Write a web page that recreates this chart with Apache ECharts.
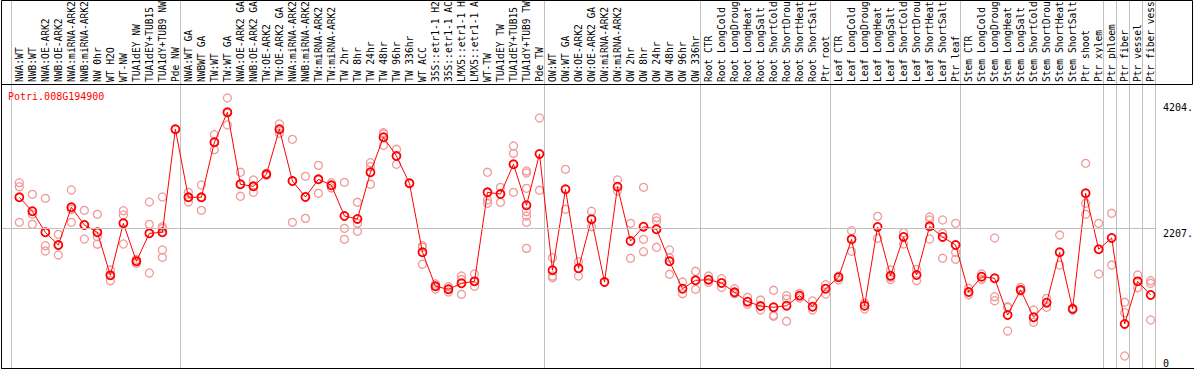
<!DOCTYPE html>
<html><head><meta charset="utf-8">
<script src="https://cdn.jsdelivr.net/npm/echarts@6/dist/echarts.min.js"></script>
<style>html,body{margin:0;padding:0;background:#fff}#c{width:1194px;height:370px}</style>
</head><body><div id="c"></div>
<script>
const geneId = 'Potri.008G194900';
const categories = [
 'NWA:WT','NWB:WT','NWA:OE-ARK2','NWB:OE-ARK2','NWA:miRNA-ARK2','NWB:miRNA-ARK2','NW 0hr','WT H2O','WT-NW','TUA1dEY NW',
 'TUA1dEY+TUB15','TUA1dY+TUB9 NW','Pde NW','NWA:WT GA','NWBWT GA','TW:WT','TW:WT GA','NWA:OE-ARK2 GA','NWB:OE-ARK2 GA','TW:OE-ARK2',
 'TW:OE-ARK2 GA','NWA:miRNA-ARK2','NWB:miRNA-ARK2','TW:miRNA-ARK2','TW:miRNA-ARK2','TW 2hr','TW 8hr','TW 24hr','TW 48hr','TW 96hr',
 'TW 336hr','WT ACC','35S::etr1-1 H2','35S::etr1-1 AC','LMX5::etr1-1 H','LMX5::etr1-1 A','WT-TW','TUA1dEY TW','TUA1dEY+TUB15','TUA1dY+TUB9 TW',
 'Pde TW','OW:WT','OW:WT GA','OW:OE-ARK2','OW:OE-ARK2 GA','OW:miRNA-ARK2','OW:miRNA-ARK2','OW 2hr','OW 8hr','OW 24hr',
 'OW 48hr','OW 96hr','OW 336hr','Root CTR','Root LongCold','Root LongDroug','Root LongHeat','Root LongSalt','Root ShortCold','Root ShortDrou',
 'Root ShortHeat','Root ShortSalt','Ptr root','Leaf CTR','Leaf LongCold','Leaf LongDroug','Leaf LongHeat','Leaf LongSalt','Leaf ShortCold','Leaf ShortDrou',
 'Leaf ShortHeat','Leaf ShortSalt','Ptr leaf','Stem CTR','Stem LongCold','Stem LongDroug','Stem LongHeat','Stem LongSalt','Stem ShortCold','Stem ShortDrou',
 'Stem ShortHeat','Stem ShortSalt','Ptr shoot','Ptr xylem','Ptr phloem','Ptr fiber','Ptr vessel','Ptr fiber vess'
];
const means = [
 2702,2481,2148,1947,2544,2264,2148,1467,2291,1689,
 2132,2148,3779,2702,2702,3573,4048,2908,2876,3066,
 3779,2960,2707,2987,2892,2406,2359,3098,3652,3356,
 2924,1832,1293,1246,1341,1372,2781,2754,3225,2576,
 3388,1547,2829,1578,2354,1361,2870,2010,2237,2196,
 1689,1255,1388,1398,1346,1198,1050,981,961,986,
 1145,970,1255,1436,2037,986,2232,1461,2074,1472,
 2243,2074,1947,1203,1445,1420,839,1235,803,1034,
 1832,934,2766,1879,2058,697,1372,1156
];
const replicates = [
 [2934,2870,2306],[2749,2433,2274],[2686,1936,1852],[2116,1940,1789],[2818,2510,2306],
 [2496,2264,2042],[2433,2078,1960],[1551,1467,1382],[2490,2422,1963],[1720,1689,1657],
 [2628,2274,1504],[2707,2237,2211,1868,1752],[3779],[2781,2702,2628],[2897,2702,2496],
 [3693,3573,3456],[4274,4040,3847],[3098,2908,2718],[2976,2876,2781],[3082,3050],
 [3863,3779,3715],[3620,2960,2306],[3034,2707,2369],[3208,2987,2765],[2934,2850],
 [2939,2211,2037],[2623,2290,2164],[3250,3187,2908],[3725,3704,3525],[3462,3356,3225],
 [2924],[1936,1911,1642],[1330,1293,1251],[1287,1246,1203],[1456,1400,1167],
 [1488,1372,1293],[3098,2659,2607],[2860,2754,2623],[3514,3398,2781],[3119,3087,2844,2475,2406,2306,1894],
 [3958,2813],[1746,1456,1430],[3145,2512],[1683,1456],[2481,2237],
 [1361],[2976,2802],[2290,1737],[2860,2037,1841],[2379,2327,1911],
 [1868,1746,1483],[1361,1176],[1531,1246],[1456,1356],[1414,1277],
 [1255,1176],[1119,1008],[1076,918],[1230,834,820],[1145,1092,739],
 [1182,1108],[1061,918],[1319,1171],[1456,1393],[2174,1847],
 [1024,934],[2401,2053],[1551,1436,1400],[2142,1963],[1562,1382],
 [2390,2343,2042],[2343,2132,1737],[2290,1831,1720],[1262,1160],[1488,1402],
 [2058,1129,1065],[970,960,586],[1277,1219],[918,723],[1103,961],
 [2105,1630],[918,950],[3240,2607,2433],[2290,1488],[2449,1630],
 [1040,875,190],[1472,1271],[1382,1341,760]
];
// separator lines drawn after these (1-based) category counts
const groupEnds = [0,13,41,53,63,73,84,85,86,87,88];
const yTickValues = [0, 2207, 4204];
const yTickLabels = ['0', '2207.', '4204.'];

const MONO = "'DejaVu Sans Mono', 'Liberation Mono', monospace";
const X_MIN = -1.41, X_MAX = 87.41, Y_MAX = 4480;
const SEP_OFFSET = 0.38;

const idx = categories.map((_, i) => i);
const meanData = means.map((v, i) => [i, v]);
const repData = [];
replicates.forEach((arr, i) => arr.forEach(v => repData.push([i, v])));
const sepData = groupEnds.map(g => ({ coords: [[g - 1 + SEP_OFFSET, 0], [g - 1 + SEP_OFFSET, 1]] }));
const yLab = v => yTickLabels[yTickValues.indexOf(v)];

const chart = echarts.init(document.getElementById('c'), null, { renderer: 'svg' });
chart.setOption({
  animation: false,
  backgroundColor: '#fff',
  title: {
    text: geneId, left: 8, top: 91, padding: 0,
    textStyle: { color: '#ff0000', fontSize: 10, fontWeight: 'normal', fontFamily: MONO }
  },
  grid: [
    { left: 1, right: 38, top: 85, bottom: 2, containLabel: false, outerBoundsMode: 'none' },
    { left: 1, right: 38, top: 0, bottom: 2, containLabel: false, outerBoundsMode: 'none' }
  ],
  xAxis: [
    {
      gridIndex: 0, type: 'value', min: X_MIN, max: X_MAX, position: 'top',
      axisLine: { show: false }, axisTick: { show: false }, splitLine: { show: false },
      axisLabel: {
        customValues: idx, formatter: v => categories[Math.round(v)],
        rotate: 90, margin: 3, fontSize: 9.6, fontFamily: MONO, color: '#000'
      }
    },
    { gridIndex: 1, type: 'value', min: X_MIN, max: X_MAX, show: false }
  ],
  yAxis: [
    {
      gridIndex: 0, type: 'value', min: 0, max: Y_MAX, position: 'right',
      axisLine: { show: false }, axisTick: { show: false }, splitLine: { show: false },
      axisLabel: {
        customValues: yTickValues.slice(1), formatter: yLab, verticalAlign: 'top',
        margin: 7, fontSize: 10, fontFamily: MONO, color: '#000'
      }
    },
    {
      gridIndex: 0, type: 'value', min: 0, max: Y_MAX, position: 'right',
      axisLine: { show: false }, axisTick: { show: false }, splitLine: { show: false },
      axisLabel: {
        customValues: [yTickValues[0]], formatter: yLab, verticalAlign: 'bottom',
        margin: 7, fontSize: 10, fontFamily: MONO, color: '#000'
      }
    },
    { gridIndex: 1, type: 'value', min: 0, max: 1, show: false }
  ],
  graphic: [
    { type: 'rect', shape: { x: 1.5, y: 0.5, width: 1191, height: 84 },
      style: { fill: 'none', stroke: '#000', lineWidth: 1 }, z: 100, silent: true },
    { type: 'line', shape: { x1: 1.5, y1: 84.5, x2: 1.5, y2: 368.5 },
      style: { stroke: '#000', lineWidth: 1 }, z: 100, silent: true },
    { type: 'line', shape: { x1: 1, y1: 368.5, x2: 1194, y2: 368.5 },
      style: { stroke: '#000', lineWidth: 1 }, z: 100, silent: true }
  ],
  series: [
    {
      type: 'lines', coordinateSystem: 'cartesian2d', xAxisIndex: 1, yAxisIndex: 2,
      data: sepData, silent: true, z: 1,
      lineStyle: { color: '#c0c0c0', width: 1, opacity: 1 }
    },
    {
      type: 'scatter', xAxisIndex: 0, yAxisIndex: 0, data: repData, z: 2, silent: true,
      symbol: 'circle', symbolSize: 8,
      itemStyle: { color: 'rgba(255,255,255,0)', borderColor: '#f09a9a', borderWidth: 1.3, opacity: 1 },
      markLine: {
        silent: true, symbol: 'none', label: { show: false },
        lineStyle: { color: '#c0c0c0', width: 1, type: 'solid' },
        data: [{ yAxis: yTickValues[1] }]
      }
    },
    {
      type: 'line', xAxisIndex: 0, yAxisIndex: 0, data: meanData, z: 3, silent: true,
      symbol: 'circle', symbolSize: 8, showAllSymbol: true,
      itemStyle: { color: 'rgba(255,255,255,0)', borderColor: '#ff0000', borderWidth: 1.8 },
      lineStyle: { color: '#ff0000', width: 1 }
    }
  ]
});
</script></body></html>
